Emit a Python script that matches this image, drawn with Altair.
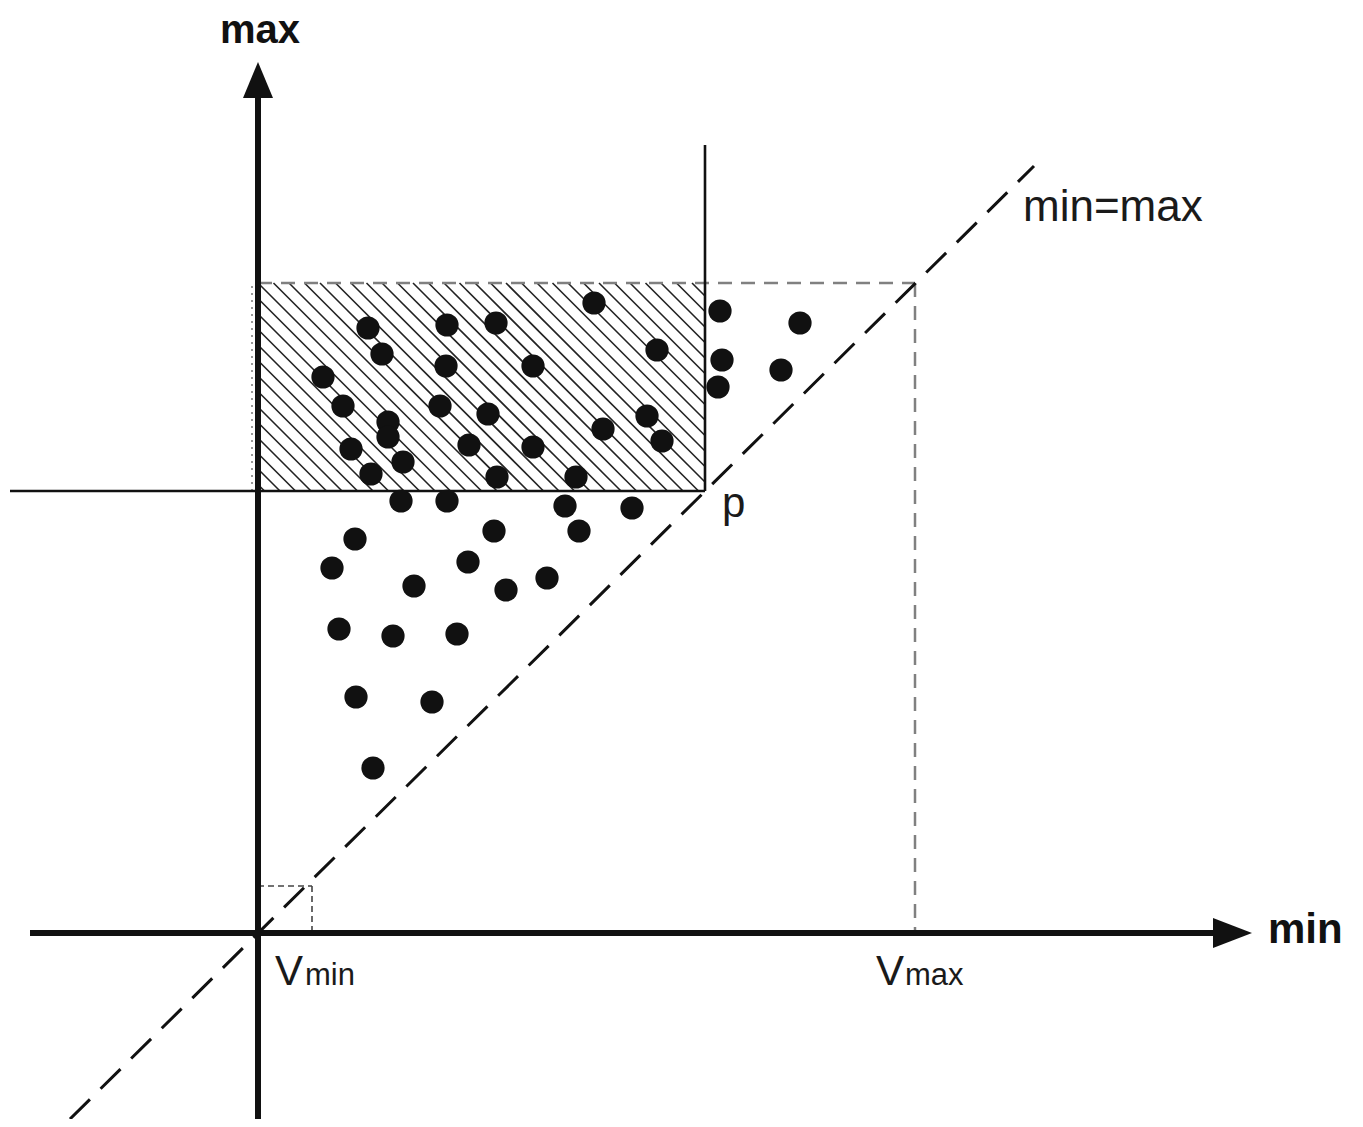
import altair as alt
import pandas as pd
import numpy as np

# ---- data (diagram units: x = "min", y = "max", origin where the axes cross) ----
# sample points
dot_x = [336, 110, 189, 238, 124, 188, 275, 399, 65, 85, 182, 230, 130, 130, 389, 345, 404,
         93, 211, 275, 145, 113, 239, 318,
         143, 189, 307, 374, 97, 236, 321, 74, 210, 156, 248, 289, 81, 135, 199, 98, 174, 115,
         462, 542, 464, 523, 460]
dot_y = [630, 605, 608, 610, 579, 567, 567, 583, 556, 527, 527, 519, 511, 496, 517, 504, 492,
         484, 488, 486, 471, 459, 456, 456,
         432, 432, 427, 425, 394, 402, 402, 365, 371, 347, 343, 355, 304, 297, 299, 236, 231, 165,
         622, 610, 573, 563, 546]

# axes (thick) segments
axis_x1 = [0, -228]
axis_y1 = [-187, 0]
axis_x2 = [0, 957]
axis_y2 = [835, 0]

# thin solid lines through p
pline_x1 = [-248, 447]
pline_y1 = [442, 442]
pline_x2 = [447, 447]
pline_y2 = [442, 788]

# grey dashed guides (top of region to Vmax, and down to the axis)
gd_x1 = [0, 657]
gd_y1 = [650, 650]
gd_x2 = [657, 657]
gd_y2 = [650, 0]

# small dashed square at Vmin
sd_x1 = [0, 54]
sd_y1 = [47, 47]
sd_x2 = [54, 54]
sd_y2 = [47, 0]

# dotted left edge of the region
dl_x1 = [-6]
dl_y1 = [442]
dl_x2 = [-6]
dl_y2 = [650]

# diagonal min=max
diag_x1 = [-188]
diag_y1 = [-186]
diag_x2 = [776]
diag_y2 = [767]

# hatched region: x in [0, 447], y in [442, 650]
rect_x = [0, 447]
rect_y = [442, 650]
hatch_step = 15.5

# arrow heads
arrow_up = (0, 853)
arrow_right = (974.5, 0)

# labels
bold_center_text = ["max"]
bold_center_x = [2]
bold_center_y = [890]

bold_left_text = ["min"]
bold_left_x = [1010]
bold_left_y = [-10]

reg_text = ["min=max", "p", "V", "V"]
reg_x = [765, 464, 17, 618]
reg_y = [712, 416, -52, -52]

sub_text = ["min", "max"]
sub_x = [47, 647]
sub_y = [-52, -52]

XDOM = [-250, 1097]
YDOM = [-186, 925]
xs = alt.Scale(domain=XDOM, nice=False, zero=False)
ys = alt.Scale(domain=YDOM, nice=False, zero=False)
FONT = "Liberation Sans"
INK = "#111111"


def seg_df(x1, y1, x2, y2):
    return pd.DataFrame({"x": x1, "y": y1, "x2": x2, "y2": y2})


def pos():
    return dict(x=alt.X("x:Q", scale=xs, axis=None), y=alt.Y("y:Q", scale=ys, axis=None))


def rules(df, **kw):
    return alt.Chart(df).mark_rule(**kw).encode(x2="x2:Q", y2="y2:Q", **pos())


# hatch segments (lines x + y = c clipped to the region)
hx1, hy1, hx2, hy2 = [], [], [], []
c0 = rect_x[0] + rect_y[1]
cs = np.concatenate([np.arange(c0, rect_x[0] + rect_y[0], -hatch_step)[::-1][:-1],
                     np.arange(c0, rect_x[1] + rect_y[1], hatch_step)])
for c in cs:
    lo = max(rect_x[0], c - rect_y[1])
    hi = min(rect_x[1], c - rect_y[0])
    if hi - lo > 0.5:
        hx1.append(lo); hy1.append(c - lo)
        hx2.append(hi); hy2.append(c - hi)

hatch = rules(seg_df(hx1, hy1, hx2, hy2), color="#222222", strokeWidth=1.6)
dotted = rules(seg_df(dl_x1, dl_y1, dl_x2, dl_y2), color="#777777", strokeWidth=1.5,
               strokeDash=[2, 5])
grey_dash = rules(seg_df(gd_x1, gd_y1, gd_x2, gd_y2), color="#808080", strokeWidth=2.5,
                  strokeDash=[14, 9])
small_dash = rules(seg_df(sd_x1, sd_y1, sd_x2, sd_y2), color="#444444", strokeWidth=1.6,
                   strokeDash=[6, 4])
diag = rules(seg_df(diag_x1, diag_y1, diag_x2, diag_y2), color=INK, strokeWidth=3,
             strokeDash=[28, 15])
plines = rules(seg_df(pline_x1, pline_y1, pline_x2, pline_y2), color=INK, strokeWidth=2.6)
axes = rules(seg_df(axis_x1, axis_y1, axis_x2, axis_y2), color=INK, strokeWidth=6)

arrow_up_mark = alt.Chart(pd.DataFrame({"x": [arrow_up[0]], "y": [arrow_up[1]]})).mark_point(
    shape="M0,-1.2L1,1.2L-1,1.2Z", size=900, filled=True, color=INK,
    opacity=1, strokeWidth=0,
).encode(**pos())
arrow_right_mark = alt.Chart(pd.DataFrame({"x": [arrow_right[0]], "y": [arrow_right[1]]})).mark_point(
    shape="M1.3,0L-1.3,-1L-1.3,1Z", size=900, filled=True, color=INK,
    opacity=1, strokeWidth=0,
).encode(**pos())

dots = alt.Chart(pd.DataFrame({"x": dot_x, "y": dot_y})).mark_circle(
    size=540, color=INK, opacity=1
).encode(**pos())

bold_center = alt.Chart(pd.DataFrame({"t": bold_center_text, "x": bold_center_x,
                                      "y": bold_center_y})).mark_text(
    align="center", baseline="alphabetic", font=FONT, fontSize=40, fontWeight="bold",
    color=INK,
).encode(text="t:N", **pos())
bold_left = alt.Chart(pd.DataFrame({"t": bold_left_text, "x": bold_left_x,
                                    "y": bold_left_y})).mark_text(
    align="left", baseline="alphabetic", font=FONT, fontSize=42, fontWeight="bold",
    color=INK,
).encode(text="t:N", **pos())

reg_df = pd.DataFrame({"t": reg_text, "x": reg_x, "y": reg_y})
reg_big = alt.Chart(reg_df.iloc[:1]).mark_text(
    align="left", baseline="alphabetic", font=FONT, fontSize=44, color="#1a1a1a",
).encode(text="t:N", **pos())
reg = alt.Chart(reg_df.iloc[1:]).mark_text(
    align="left", baseline="alphabetic", font=FONT, fontSize=42, color="#1a1a1a",
).encode(text="t:N", **pos())

sub = alt.Chart(pd.DataFrame({"t": sub_text, "x": sub_x, "y": sub_y})).mark_text(
    align="left", baseline="alphabetic", font=FONT, fontSize=31, color="#1a1a1a",
).encode(text="t:N", **pos())

chart = alt.layer(
    hatch, dotted, grey_dash, small_dash, diag, plines, axes,
    arrow_up_mark, arrow_right_mark, dots, bold_center, bold_left, reg_big, reg, sub,
).properties(
    width=1347, height=1111, padding=0,
    autosize=alt.AutoSizeParams(type="none"),
    background="white",
).configure_view(stroke=None)

chart.save("out.html", embed_options={"renderer": "svg", "actions": False})
